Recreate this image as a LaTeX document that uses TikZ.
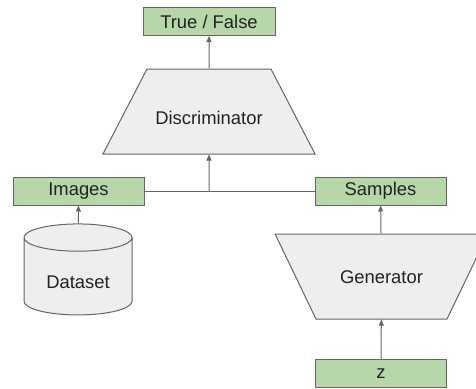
\documentclass[tikz,border=0pt]{standalone}
\usepackage{fontspec}
\setmainfont{Liberation Sans}
\usetikzlibrary{shapes.geometric,arrows.meta}
\definecolor{boxgreen}{HTML}{B6D7A8}
\definecolor{boxgray}{HTML}{EEEEEE}
\definecolor{edgegray}{HTML}{666666}
\definecolor{txtgray}{HTML}{222222}
\begin{document}
\begin{tikzpicture}[x=1pt,y=-1pt,
  font=\fontsize{18.4}{22}\selectfont,
  label/.style ={rectangle, draw=edgegray, fill=boxgreen, line width=1pt,
    text=txtgray, minimum width=131pt, minimum height=28pt, inner sep=0pt
  },
  net/.style ={trapezium, draw=edgegray, fill=boxgray, line width=1pt,
    text=txtgray, align=center, inner xsep=0pt, text depth=4pt
  },
  store/.style ={cylinder, shape border rotate=90, draw=edgegray, fill=boxgray,
    line width=1pt, text=txtgray, aspect=0.43, minimum width=108pt,
    minimum height=91pt, inner sep=0pt, text height=27pt, text depth=4pt
  },
  arr/.style ={draw=edgegray, line width=1pt, -{Triangle[length=6pt,width=5pt]}}
]
\useasboundingbox (0,0) rectangle (476,388);
\clip (0,0) rectangle (476,388);

\node (tf) at (209,21.5) [label, minimum width=132pt] {True / False};
\node (disc) at (209,111.5) [net, text width=124pt, text height=29pt,
  inner ysep=26pt, trapezium angle=62.6] {Discriminator};

\node (img) at (78.5,191) [label] {Images};
\node (smp) at (380.5,191) [label] {Samples};
\node (data) at (78,276.5) [store] {Dataset};
\node (gen) at (381.5,276.5) [net, shape border rotate=180, text width=131pt,
  text height=17pt, inner ysep=32pt, trapezium angle=64.3] {Generator};
\node (z) at (381,373.5) [label] {z};

\coordinate (j) at (209,191);

\draw[arr] (disc) -- (tf);
\draw[draw=edgegray, line width=1pt] (img) -- (smp);
\draw[arr] (j) -- (disc);
\draw[arr] (data) -- (img);
\draw[arr] (gen) -- (smp);
\draw[arr] (z) -- (gen);

\end{tikzpicture}
\end{document}
